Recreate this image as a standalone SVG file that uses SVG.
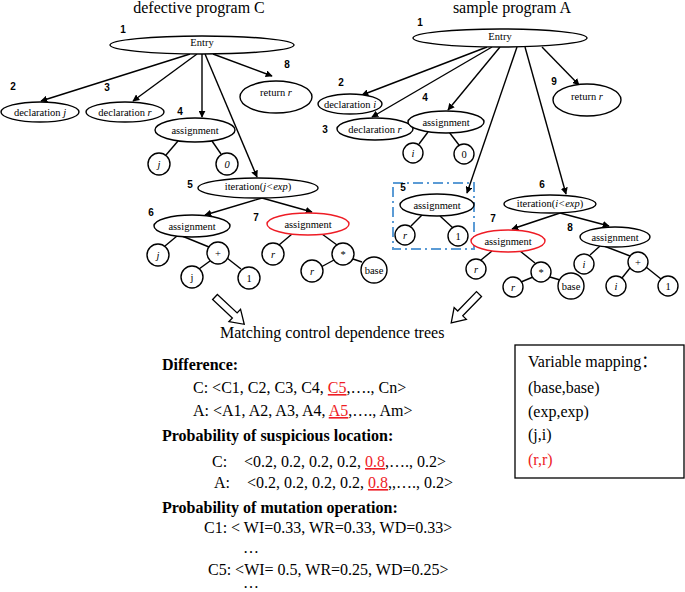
<svg xmlns="http://www.w3.org/2000/svg" width="685" height="592" viewBox="0 0 685 592">
<defs>
<marker id="ah" viewBox="0 0 10 10" refX="9" refY="5" markerWidth="7" markerHeight="7" orient="auto" markerUnits="userSpaceOnUse">
<path d="M0,0 L10,5 L0,10 z" fill="#000"/>
</marker>
</defs>
<style>
.n ellipse, .n circle { fill: #fff; stroke: #000; stroke-width: 1.4; }
.n ellipse.red { stroke: #ee1c25; }
.lbl { font-family: "Liberation Serif", "Times New Roman", serif; font-size: 10.5px; text-anchor: middle; fill: #000; }
.num { font-family: "Liberation Sans", sans-serif; font-size: 10px; font-weight: bold; text-anchor: middle; fill: #000; }
.it { font-style: italic; }
.e line { stroke: #000; stroke-width: 1.4; }
.e line.a { marker-end: url(#ah); }
.title { font-family: "Liberation Serif", serif; font-size: 16px; text-anchor: middle; fill: #000; }
.t { font-family: "Liberation Serif", "Noto Sans CJK SC", serif; font-size: 16px; fill: #000; }
.b { font-weight: bold; }
.red { fill: #ee1c25; }
.ul { text-decoration: underline; }
.blk { fill: #fff; stroke: #000; stroke-width: 1.3; }
</style>
<rect width="685" height="592" fill="#fff"/>

<text class="title" x="199" y="13">defective program C</text>
<text class="title" x="512" y="13">sample program A</text>

<g id="connectors" class="e">
<line class="a" x1="190" y1="54" x2="41" y2="101"/>
<line class="a" x1="197" y1="54" x2="133" y2="101"/>
<line class="a" x1="202" y1="54" x2="202" y2="117"/>
<line class="a" x1="205" y1="54" x2="257" y2="177"/>
<line class="a" x1="213" y1="54" x2="272" y2="76"/>
<line class="a" x1="262" y1="198" x2="205" y2="215"/>
<line class="a" x1="262" y1="198" x2="312" y2="212"/>
<line x1="178" y1="141" x2="166" y2="155"/>
<line x1="212" y1="141" x2="221" y2="154"/>
<line x1="177" y1="236" x2="165" y2="246"/>
<line x1="182" y1="236" x2="209" y2="247"/>
<line x1="210" y1="261" x2="199" y2="269"/>
<line x1="227" y1="258" x2="241" y2="269"/>
<line x1="292" y1="234" x2="279" y2="245"/>
<line x1="322" y1="234" x2="337" y2="245"/>
<line x1="334" y1="260" x2="321" y2="267"/>
<line x1="353" y1="259" x2="362" y2="262"/>
<line class="a" x1="487" y1="47" x2="362" y2="95"/>
<line class="a" x1="492" y1="47" x2="372" y2="117"/>
<line class="a" x1="500" y1="47" x2="448" y2="110"/>
<line class="a" x1="517" y1="47" x2="467" y2="193"/>
<line class="a" x1="525" y1="47" x2="566" y2="194"/>
<line class="a" x1="542" y1="47" x2="579" y2="85"/>
<line class="a" x1="560" y1="213" x2="512" y2="229"/>
<line class="a" x1="560" y1="213" x2="609" y2="226"/>
<line x1="428" y1="132" x2="419" y2="144"/>
<line x1="449" y1="132" x2="459" y2="145"/>
<line x1="422" y1="215" x2="411" y2="226"/>
<line x1="440" y1="216" x2="453" y2="228"/>
<line x1="492" y1="251" x2="481" y2="260"/>
<line x1="520" y1="251" x2="535" y2="263"/>
<line x1="533" y1="277" x2="521" y2="282"/>
<line x1="550" y1="277" x2="560" y2="280"/>
<line x1="600" y1="246" x2="590" y2="255"/>
<line x1="604" y1="246" x2="630" y2="256"/>
<line x1="630" y1="268" x2="622" y2="278"/>
<line x1="646" y1="267" x2="661" y2="279"/>
</g>

<g id="C1" class="n"><ellipse cx="202" cy="45" rx="92" ry="9"/><text class="lbl" x="202" y="46">Entry</text><text class="num" x="123" y="33">1</text></g>
<g id="C2" class="n"><ellipse cx="40" cy="112" rx="39" ry="10"/><text class="lbl" x="40" y="115.5">declaration <tspan class="it">j</tspan></text><text class="num" x="13" y="90">2</text></g>
<g id="C3" class="n"><ellipse cx="125" cy="112" rx="39" ry="10"/><text class="lbl" x="125" y="115.5">declaration <tspan class="it">r</tspan></text><text class="num" x="107" y="91">3</text></g>
<g id="C4" class="n"><ellipse cx="195" cy="130" rx="40" ry="12"/><text class="lbl" x="195" y="133.5">assignment</text><text class="num" x="180" y="115">4</text></g>
<g id="C4a" class="n"><circle cx="159" cy="164" r="11"/><text class="lbl it" x="159" y="167.5">j</text></g>
<g id="C4b" class="n"><circle cx="227" cy="164" r="11"/><text class="lbl it" x="227" y="167.5">0</text></g>
<g id="C8" class="n"><ellipse cx="276" cy="97" rx="36" ry="16"/><text class="lbl" x="276" y="96">return <tspan class="it">r</tspan></text><text class="num" x="287" y="68">8</text></g>
<g id="C5" class="n"><ellipse cx="258" cy="188" rx="60" ry="10"/><text class="lbl" x="258" y="190">iteration(<tspan class="it">j&lt;exp</tspan>)</text><text class="num" x="190" y="188">5</text></g>
<g id="C6" class="n"><ellipse cx="192" cy="226" rx="38" ry="11"/><text class="lbl" x="192" y="230">assignment</text><text class="num" x="151" y="216">6</text></g>
<g id="C6a" class="n"><circle cx="158" cy="255" r="11"/><text class="lbl it" x="158" y="258.5">j</text></g>
<g id="C6b" class="n"><circle cx="218" cy="253" r="11"/><text class="lbl" x="218" y="256.5">+</text></g>
<g id="C6c" class="n"><circle cx="192" cy="277" r="11"/><text class="lbl" x="192" y="280.5">j</text></g>
<g id="C6d" class="n"><circle cx="249" cy="278" r="11"/><text class="lbl" x="249" y="281.5">1</text></g>
<g id="C7" class="n"><ellipse class="red" cx="308" cy="224" rx="41" ry="11"/><text class="lbl" x="308" y="227.5">assignment</text><text class="num" x="256" y="221">7</text></g>
<g id="C7a" class="n"><circle cx="273" cy="254" r="11"/><text class="lbl it" x="273" y="257.5">r</text></g>
<g id="C7b" class="n"><circle cx="343" cy="254" r="11"/><text class="lbl" x="343" y="257.5">*</text></g>
<g id="C7c" class="n"><circle cx="312" cy="271" r="11"/><text class="lbl it" x="312" y="274.5">r</text></g>
<g id="C7d" class="n"><circle cx="374" cy="270" r="13"/><text class="lbl" x="374" y="273.5">base</text></g>

<g id="A1" class="n"><ellipse cx="500" cy="38" rx="87" ry="9"/><text class="lbl" x="500" y="40">Entry</text><text class="num" x="420" y="26">1</text></g>
<g id="A2" class="n"><ellipse cx="350" cy="104" rx="32" ry="10"/><text class="lbl" x="350" y="107.5">declaration <tspan class="it">i</tspan></text><text class="num" x="341" y="86">2</text></g>
<g id="A3" class="n"><ellipse cx="375" cy="129" rx="38" ry="11"/><text class="lbl" x="375" y="132.5">declaration <tspan class="it">r</tspan></text><text class="num" x="325" y="133">3</text></g>
<g id="A4" class="n"><ellipse cx="446" cy="122" rx="38" ry="11"/><text class="lbl" x="446" y="125.5">assignment</text><text class="num" x="425" y="101">4</text></g>
<g id="A4a" class="n"><circle cx="413" cy="153" r="10"/><text class="lbl it" x="413" y="156.5">i</text></g>
<g id="A4b" class="n"><circle cx="464" cy="154" r="10"/><text class="lbl" x="464" y="157.5">0</text></g>
<g id="A9" class="n"><ellipse cx="587" cy="100" rx="34" ry="16"/><text class="lbl" x="587" y="100">return <tspan class="it">r</tspan></text><text class="num" x="554" y="85">9</text></g>
<g id="A5" class="n">
<rect x="393" y="183" width="81" height="66" fill="none" stroke="#5b9bd5" stroke-width="2" stroke-dasharray="10,4,2,4"/>
<ellipse cx="437" cy="205" rx="37" ry="11"/><text class="lbl" x="437" y="208.5">assignment</text><text class="num" x="403" y="191">5</text></g>
<g id="A5a" class="n"><circle cx="405" cy="235" r="10"/><text class="lbl it" x="405" y="238.5">r</text></g>
<g id="A5b" class="n"><circle cx="458" cy="236" r="10"/><text class="lbl" x="458" y="239.5">1</text></g>
<g id="A6" class="n"><ellipse cx="550" cy="204" rx="46" ry="9"/><text class="lbl" x="550" y="207">iteration(<tspan class="it">i&lt;exp</tspan>)</text><text class="num" x="542" y="188">6</text></g>
<g id="A7" class="n"><ellipse class="red" cx="508" cy="241" rx="37" ry="11"/><text class="lbl" x="508" y="244.5">assignment</text><text class="num" x="493" y="222">7</text></g>
<g id="A7a" class="n"><circle cx="476" cy="269" r="10"/><text class="lbl it" x="476" y="272.5">r</text></g>
<g id="A7b" class="n"><circle cx="541" cy="272" r="10"/><text class="lbl" x="541" y="275.5">*</text></g>
<g id="A7c" class="n"><circle cx="513" cy="287" r="10"/><text class="lbl it" x="513" y="290.5">r</text></g>
<g id="A7d" class="n"><circle cx="571" cy="286" r="13"/><text class="lbl" x="571" y="289.5">base</text></g>
<g id="A8" class="n"><ellipse cx="615" cy="237" rx="35" ry="10"/><text class="lbl" x="615" y="240.5">assignment</text><text class="num" x="570" y="231">8</text></g>
<g id="A8a" class="n"><circle cx="584" cy="264" r="10"/><text class="lbl it" x="584" y="267.5">i</text></g>
<g id="A8b" class="n"><circle cx="638" cy="262" r="10"/><text class="lbl" x="638" y="265.5">+</text></g>
<g id="A8c" class="n"><circle cx="616" cy="286" r="10"/><text class="lbl it" x="616" y="289.5">i</text></g>
<g id="A8d" class="n"><circle cx="668" cy="286" r="10"/><text class="lbl" x="668" y="289.5">1</text></g>

<g id="blockarrows">
<polygon class="blk" points="0,-3.5 27,-3.5 27,-8.5 40,0 27,8.5 27,3.5 0,3.5" transform="translate(215,297) rotate(43)"/>
<polygon class="blk" points="0,-3.5 27,-3.5 27,-8.5 40,0 27,8.5 27,3.5 0,3.5" transform="translate(479,294) rotate(134)"/>
</g>

<g id="texts">
<text class="t" x="220" y="338">Matching control dependence trees</text>
<text class="t b" x="162" y="370">Difference:</text>
<text class="t" x="193" y="393">C: &lt;C1, C2, C3, C4, <tspan class="red ul">C5</tspan>,…., Cn&gt;</text>
<text class="t" x="193" y="416">A: &lt;A1, A2, A3, A4, <tspan class="red ul">A5</tspan>,…., Am&gt;</text>
<text class="t b" x="162" y="441">Probability of suspicious location:</text>
<text class="t" x="212" y="467">C:</text>
<text class="t" x="244" y="467">&lt;0.2, 0.2, 0.2, 0.2, <tspan class="red ul">0.8</tspan>,…., 0.2&gt;</text>
<text class="t" x="214" y="488">A:</text>
<text class="t" x="247" y="488">&lt;0.2, 0.2, 0.2, 0.2, <tspan class="red ul">0.8</tspan>,,…., 0.2&gt;</text>
<text class="t b" x="162" y="513">Probability of mutation operation:</text>
<text class="t" x="204" y="533">C1: &lt; WI=0.33, WR=0.33, WD=0.33&gt;</text>
<text class="t" x="243" y="553">…</text>
<text class="t" x="208" y="575">C5: &lt;WI= 0.5, WR=0.25, WD=0.25&gt;</text>
<text class="t" x="243" y="588">…</text>
</g>

<g id="mapping">
<rect x="515" y="345" width="169" height="133" fill="#fff" stroke="#000" stroke-width="1.3"/>
<text class="t" x="528" y="367">Variable mapping：</text>
<text class="t" x="528" y="393">(base,base)</text>
<text class="t" x="528" y="417">(exp,exp)</text>
<text class="t" x="528" y="440">(j,i)</text>
<text class="t red" x="528" y="465">(r,r)</text>
</g>
</svg>
